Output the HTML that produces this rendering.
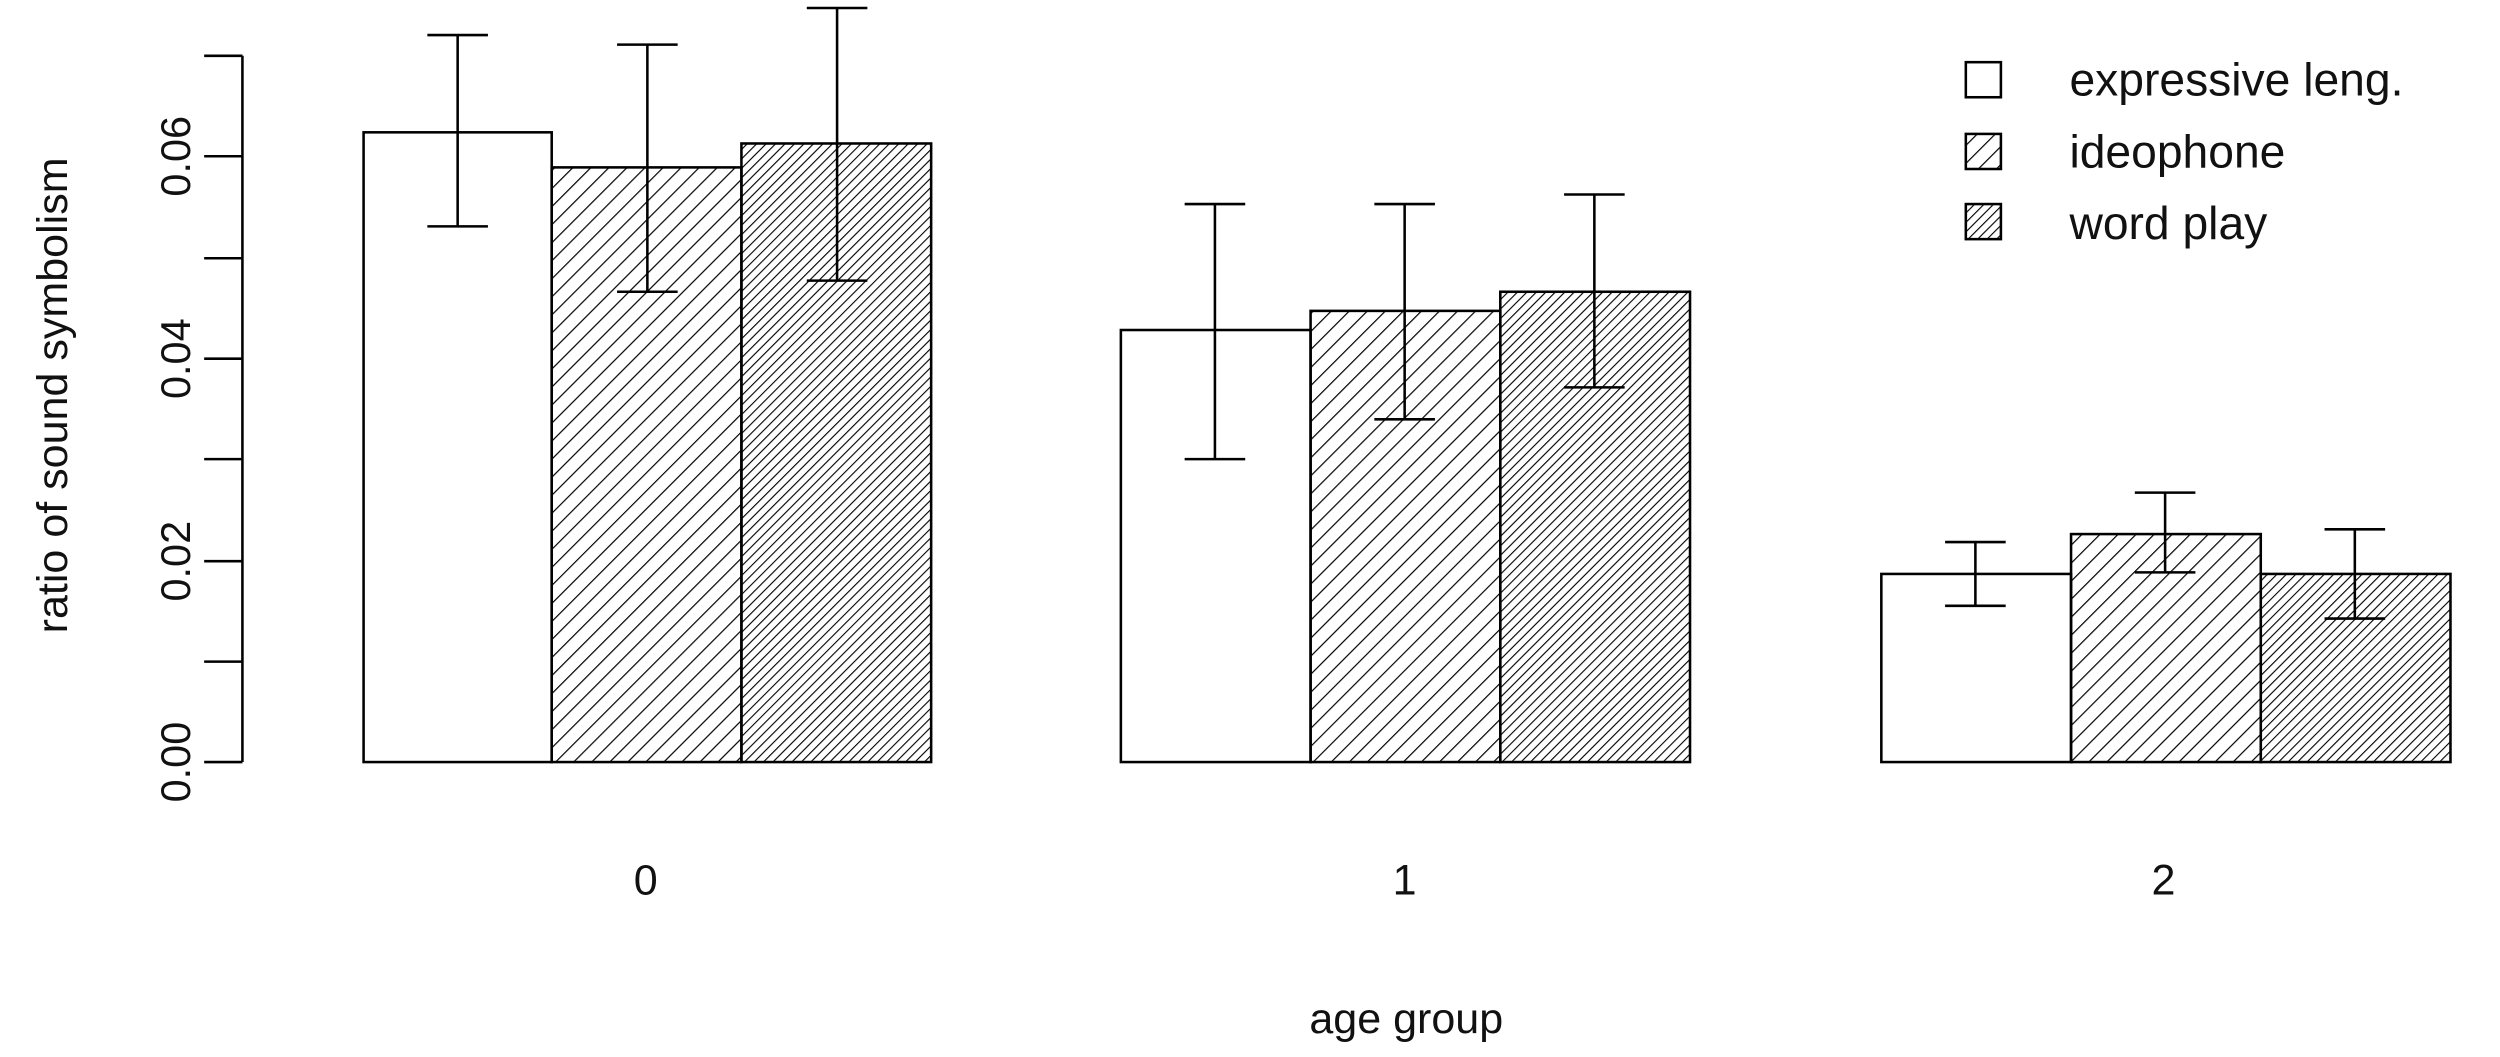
<!DOCTYPE html>
<html><head><meta charset="utf-8"><style>html,body{margin:0;padding:0;background:#fff}svg{display:block}</style></head>
<body>
<svg width="2500" height="1057" viewBox="0 0 1568 663" xmlns="http://www.w3.org/2000/svg" font-family="Liberation Sans, sans-serif">
<defs>
<pattern id="h1" patternUnits="userSpaceOnUse" width="8" height="8" patternTransform="rotate(45)">
<line x1="0" y1="0" x2="0" y2="8" stroke="#000" stroke-width="1.5"/></pattern>
<pattern id="h2" patternUnits="userSpaceOnUse" width="4.2" height="4.2" patternTransform="rotate(45)">
<line x1="0" y1="0" x2="0" y2="4.2" stroke="#000" stroke-width="1.4"/></pattern>
</defs>
<g stroke="#000" stroke-width="1.6" fill="none">
<line x1="152" y1="35" x2="152" y2="478"/>
<line x1="128" y1="35" x2="152" y2="35"/><line x1="128" y1="98" x2="152" y2="98"/>
<line x1="128" y1="162" x2="152" y2="162"/><line x1="128" y1="225" x2="152" y2="225"/>
<line x1="128" y1="288" x2="152" y2="288"/><line x1="128" y1="352" x2="152" y2="352"/>
<line x1="128" y1="415" x2="152" y2="415"/><line x1="128" y1="478" x2="152" y2="478"/>
</g>
<g font-size="26" fill="#111" text-anchor="middle">
<text transform="translate(119,478) rotate(-90)">0.00</text>
<text transform="translate(119,352) rotate(-90)">0.02</text>
<text transform="translate(119,225) rotate(-90)">0.04</text>
<text transform="translate(119,98) rotate(-90)">0.06</text>
<text transform="translate(42,248) rotate(-90)" font-size="27">ratio of sound symbolism</text>
<text x="405" y="561" font-size="27">0</text>
<text x="881" y="561" font-size="27">1</text>
<text x="1357" y="561" font-size="27">2</text>
<text x="882" y="648" font-size="27">age group</text>
</g>
<g stroke="#000" stroke-width="1.6">
<rect x="228" y="83" width="118" height="395" fill="#fff"/>
<rect x="346" y="105" width="119" height="373" fill="url(#h1)"/>
<rect x="465" y="90" width="119" height="388" fill="url(#h2)"/>
<rect x="703" y="207" width="119" height="271" fill="#fff"/>
<rect x="822" y="195" width="119" height="283" fill="url(#h1)"/>
<rect x="941" y="183" width="119" height="295" fill="url(#h2)"/>
<rect x="1180" y="360" width="119" height="118" fill="#fff"/>
<rect x="1299" y="335" width="119" height="143" fill="url(#h1)"/>
<rect x="1418" y="360" width="119" height="118" fill="url(#h2)"/>
</g>
<g stroke="#000" stroke-width="1.6" fill="none">
<path d="M287 22V142M268 22H306M268 142H306"/>
<path d="M406 28V183M387 28H425M387 183H425"/>
<path d="M525 5V176M506 5H544M506 176H544"/>
<path d="M762 128V288M743 128H781M743 288H781"/>
<path d="M881 128V263M862 128H900M862 263H900"/>
<path d="M1000 122V243M981 122H1019M981 243H1019"/>
<path d="M1239 340V380M1220 340H1258M1220 380H1258"/>
<path d="M1358 309V359M1339 309H1377M1339 359H1377"/>
<path d="M1477 332V388M1458 332H1496M1458 388H1496"/>
</g>
<g stroke="#000" stroke-width="1.6">
<rect x="1233" y="39" width="22" height="22" fill="#fff"/>
<rect x="1233" y="84" width="22" height="22" fill="url(#h1)"/>
<rect x="1233" y="128" width="22" height="22" fill="url(#h2)"/>
</g>
<g font-size="29" fill="#111">
<text x="1298" y="60">expressive leng.</text>
<text x="1298" y="105">ideophone</text>
<text x="1298" y="150">word play</text>
</g>
</svg>
</body></html>
